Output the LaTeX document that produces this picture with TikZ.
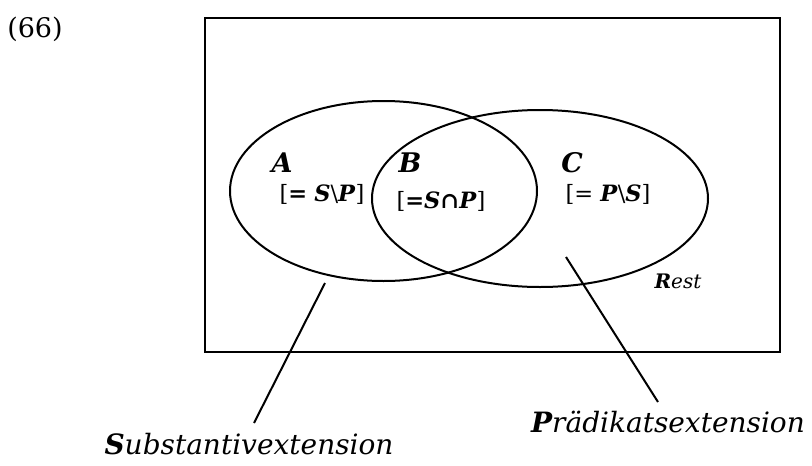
\documentclass[tikz,border=0pt]{standalone}
\usepackage{fontspec}
\setmainfont{DejaVu Serif}
\usetikzlibrary{shapes.geometric}
\newcommand{\bi}[1]{\textbf{\textit{#1}}}
\begin{document}
\begin{tikzpicture}[x=1pt,y=-1pt,
  lw/.style={line width=2pt},
  big/.style={font=\fontsize{27}{30}\selectfont\bfseries\itshape},
  set/.style={font=\fontsize{22.5}{26}\selectfont},
  ext/.style={font=\fontsize{28}{32}\selectfont\itshape,anchor=base},
  num/.style={font=\fontsize{27}{30}\selectfont}]
\useasboundingbox (0,0) rectangle (812,466);
\node[num] (n) at (35,29) {(66)};
\node[draw,lw,minimum width=575pt,minimum height=334pt,inner sep=0pt] (box) at (492.5,185) {};
\node[draw,lw,ellipse,minimum width=307pt,minimum height=180pt,inner sep=0pt] (S) at (383.5,191) {};
\node[draw,lw,ellipse,minimum width=336pt,minimum height=177pt,inner sep=0pt] (P) at (540,198.5) {};
\node[big] (A) at (282,163) {A};
\node[set] (a) at (322,194) {[\textbf{=} \bi{S}\textbackslash\bi{P}]};
\node[big] (B) at (410,163) {B};
\node[set] (b) at (441,201) {[\textbf{=}\bi{S}\textbf{∩}\bi{P}]};
\node[big] (C) at (572,163) {C};
\node[set] (c) at (608,194) {[= \bi{P}\textbackslash\bi{S}]};
\node[font=\fontsize{20}{22}\selectfont\itshape] (r) at (678,281) {\textbf{R}est};
\node[ext] (se) at (249,454) {\textbf{S}ubstantivextension};
\node[ext] (pe) at (668,432) {\textbf{P}rädikatsextension};
\coordinate (s1) at (325,283);
\coordinate (s2) at (254,423);
\coordinate (p1) at (566,257);
\coordinate (p2) at (658,402);
\draw[lw] (s1) -- (s2);
\draw[lw] (p1) -- (p2);
\end{tikzpicture}
\end{document}
